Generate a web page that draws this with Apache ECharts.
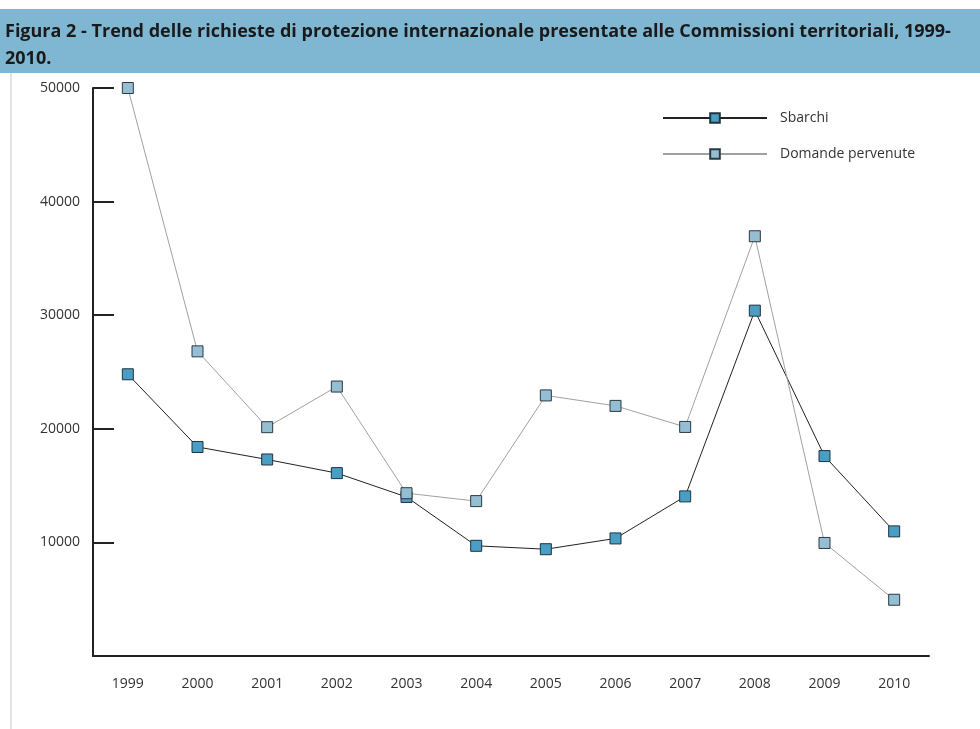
<!DOCTYPE html>
<html><head><meta charset="utf-8">
<script src="https://cdn.jsdelivr.net/npm/echarts@6/dist/echarts.min.js"></script>
<style>html,body{margin:0;padding:0;background:#fff}#c{width:980px;height:729px}</style>
</head><body><div id="c"></div>
<script>
const years = ['1999','2000','2001','2002','2003','2004','2005','2006','2007','2008','2009','2010'];
const sbarchi = [24800, 18400, 17300, 16100, 14000, 9700, 9400, 10350, 14050, 30400, 17600, 10970];
const domande = [49999, 26817, 20143, 23719, 14331, 13635, 22939, 22016, 20165, 36951, 9950, 4950];
const yTicks = [0, 10000, 20000, 30000, 40000, 50000];
const titleText = 'Figura 2 - Trend delle richieste di protezione internazionale presentate alle Commissioni territoriali, 1999-\n2010.';

const chart = echarts.init(document.getElementById('c'), null, {renderer:'canvas'});
chart.setOption({
  animation:false,
  backgroundColor:'#fff',
  graphic:[
    {type:'rect', shape:{x:0,y:9,width:980,height:64}, style:{fill:'#7fb7d3'}},
    {type:'line', shape:{x1:11,y1:73,x2:11,y2:729}, style:{stroke:'#c8c8c8',lineWidth:1}},
    {type:'text', left:5, top:18, style:{text:titleText, font:'bold 18px "Open Sans", sans-serif', fill:'#1a1a1a', lineHeight:27}}
  ],
  legend:{
    left:657, top:106, orient:'vertical', itemWidth:104, itemHeight:12, itemGap:22,
    textStyle:{fontSize:14, color:'#333', fontFamily:'"Open Sans", sans-serif', padding:[0,0,0,8]},
    data:['Sbarchi','Domande pervenute']
  },
  grid:{left:93, right:51, top:88, bottom:73},
  xAxis:{
    type:'category', data:years, boundaryGap:true,
    axisLine:{lineStyle:{color:'#222', width:2}},
    axisTick:{inside:true, length:14, alignWithLabel:true, lineStyle:{color:'#222', width:2}},
    axisLabel:{margin:21, fontSize:14, color:'#333', fontFamily:'"Open Sans", sans-serif'}
  },
  yAxis:{
    type:'value', min:0, max:50000, interval:10000,
    axisLine:{show:true, lineStyle:{color:'#222', width:2}},
    axisTick:{show:true, inside:true, length:21, lineStyle:{color:'#222', width:2}},
    splitLine:{show:false},
    axisLabel:{margin:13, fontSize:14, color:'#333', fontFamily:'"Open Sans", sans-serif',
      formatter:v => v===0 ? '' : String(v)}
  },
  series:[
    {name:'Sbarchi', type:'line', data:sbarchi, symbol:'rect', symbolSize:11,
     lineStyle:{color:'#222', width:1},
     itemStyle:{color:'#4a9dc3', borderColor:'#1e3440', borderWidth:1}},
    {name:'Domande pervenute', type:'line', data:domande, symbol:'rect', symbolSize:11,
     lineStyle:{color:'#a0a0a0', width:1},
     itemStyle:{color:'#95bed2', borderColor:'#2a3a44', borderWidth:1}}
  ]
});
</script></body></html>
